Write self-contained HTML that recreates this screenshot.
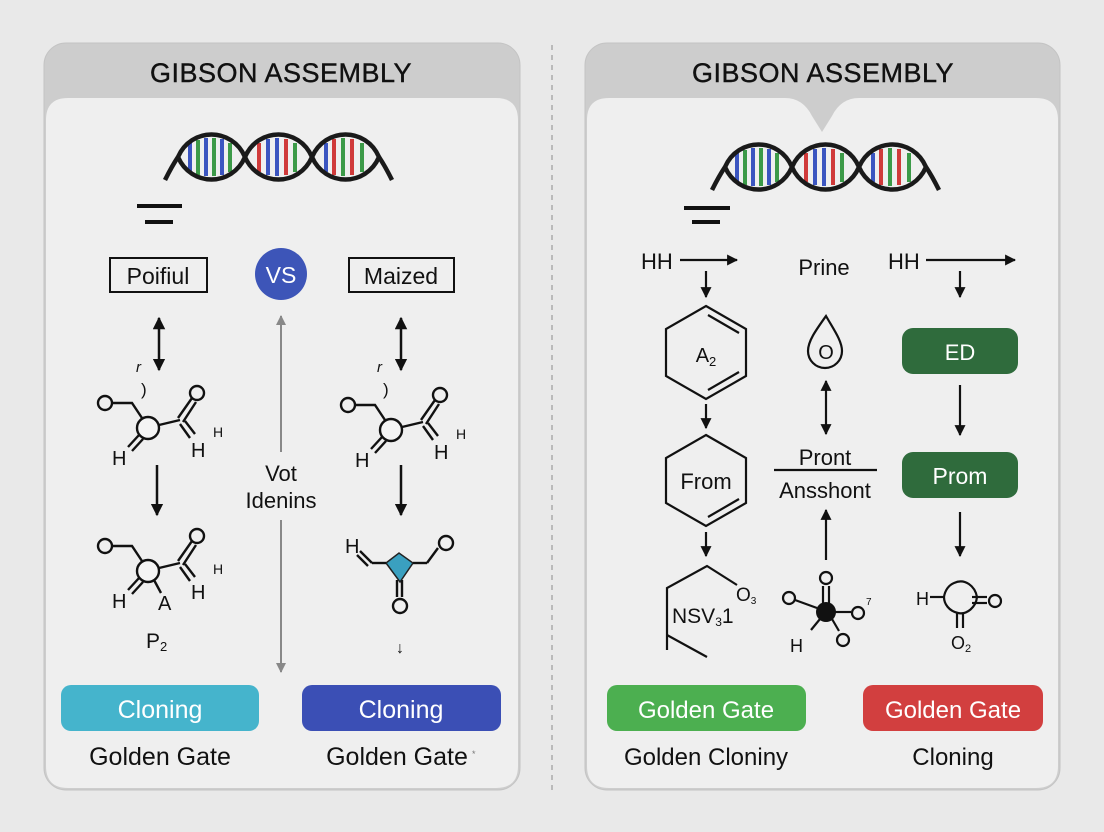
<!DOCTYPE html>
<html><head><meta charset="utf-8"><style>
html,body{margin:0;padding:0;background:#e9e9e9;}
svg{display:block;font-family:"Liberation Sans",sans-serif;}
</style></head><body>
<svg width="1104" height="832" viewBox="0 0 1104 832" xmlns="http://www.w3.org/2000/svg">
<defs>
<marker id="ah" viewBox="0 0 10 10" refX="9" refY="5" markerWidth="5" markerHeight="5" orient="auto-start-reverse"><path d="M0,0L10,5L0,10z" fill="#111"/></marker>
<marker id="ag" viewBox="0 0 10 10" refX="9" refY="5" markerWidth="5" markerHeight="5" orient="auto-start-reverse"><path d="M0,0L10,5L0,10z" fill="#888"/></marker>
<g id="dna">
 <g stroke-width="4">
  <line x1="190" y1="143" x2="190" y2="172" stroke="#3b55c0"/><line x1="198" y1="140" x2="198" y2="175" stroke="#3c9a48"/>
  <line x1="206" y1="138" x2="206" y2="176" stroke="#3b55c0"/><line x1="214" y1="138" x2="214" y2="176" stroke="#3c9a48"/>
  <line x1="222" y1="139" x2="222" y2="175" stroke="#3b55c0"/><line x1="230" y1="143" x2="230" y2="172" stroke="#3c9a48"/>
  <line x1="259" y1="143" x2="259" y2="172" stroke="#d03a3a"/><line x1="268" y1="139" x2="268" y2="175" stroke="#3b55c0"/>
  <line x1="277" y1="138" x2="277" y2="176" stroke="#3b55c0"/><line x1="286" y1="139" x2="286" y2="175" stroke="#d03a3a"/>
  <line x1="295" y1="143" x2="295" y2="172" stroke="#3c9a48"/>
  <line x1="326" y1="143" x2="326" y2="172" stroke="#3b55c0"/><line x1="334" y1="139" x2="334" y2="175" stroke="#d03a3a"/>
  <line x1="343" y1="138" x2="343" y2="176" stroke="#3c9a48"/><line x1="352" y1="139" x2="352" y2="175" stroke="#d03a3a"/>
  <line x1="362" y1="143" x2="362" y2="172" stroke="#3c9a48"/>
 </g>
 <g fill="none" stroke="#1a1a1a" stroke-width="4.5">
  <path d="M165,180 C170,170 174,163 178,157 C191,127 232,127 245,157 C258,187 299,187 312,157 C325,127 366,127 379,157 C383,163 387,170 392,180"/>
  <path d="M178,157 C191,187 232,187 245,157 C258,127 299,127 312,157 C325,187 366,187 379,157"/>
 </g>
</g>
</defs>

<line x1="552" y1="45" x2="552" y2="790" stroke="#aaa" stroke-width="1.5" stroke-dasharray="5,5"/>

<rect x="44" y="43" width="476" height="747" rx="22" fill="#cdcdcd" stroke="#c4c4c4"/>
<path d="M46,120 Q46,98 68,98 L496,98 Q518,98 518,120 L518,766 Q518,788 496,788 L68,788 Q46,788 46,766 Z" fill="#efefef"/>
<text x="281" y="82" font-size="27" text-anchor="middle" fill="#111" letter-spacing="0.5" stroke="#111" stroke-width="0.4">GIBSON ASSEMBLY</text>

<rect x="585" y="43" width="475" height="747" rx="22" fill="#cdcdcd" stroke="#c4c4c4"/>
<path d="M587,120 Q587,98 609,98 L785,98 Q803,98 812,116 L822,132 L832,116 Q841,98 859,98 L1036,98 Q1058,98 1058,120 L1058,766 Q1058,788 1036,788 L609,788 Q587,788 587,766 Z" fill="#efefef"/>
<text x="823" y="82" font-size="27" text-anchor="middle" fill="#111" letter-spacing="0.5" stroke="#111" stroke-width="0.4">GIBSON ASSEMBLY</text>

<use href="#dna"/>
<use href="#dna" transform="translate(547,10)"/>

<g stroke="#111" stroke-width="4">
<line x1="137" y1="206" x2="182" y2="206"/><line x1="145" y1="222" x2="173" y2="222"/>
<line x1="684" y1="208" x2="730" y2="208"/><line x1="692" y1="222" x2="720" y2="222"/>
</g>

<rect x="110" y="258" width="97" height="34" fill="none" stroke="#111" stroke-width="2"/>
<text x="158" y="284" font-size="23" text-anchor="middle" fill="#111">Poifiul</text>
<rect x="349" y="258" width="105" height="34" fill="none" stroke="#111" stroke-width="2"/>
<text x="401" y="284" font-size="23" text-anchor="middle" fill="#111">Maized</text>
<circle cx="281" cy="274" r="26" fill="#3d55b8"/>
<text x="281" y="283" font-size="23" text-anchor="middle" fill="#fff">VS</text>

<g stroke="#888" stroke-width="2">
<line x1="281" y1="316" x2="281" y2="452" marker-start="url(#ag)"/>
<line x1="281" y1="520" x2="281" y2="672" marker-end="url(#ag)"/>
</g>
<text x="281" y="481" font-size="22" text-anchor="middle" fill="#111">Vot</text>
<text x="281" y="508" font-size="22" text-anchor="middle" fill="#111">Idenins</text>

<g stroke="#111" stroke-width="2.5" fill="none">
<line x1="159" y1="318" x2="159" y2="370" marker-start="url(#ah)" marker-end="url(#ah)"/>
<line x1="401" y1="318" x2="401" y2="370" marker-start="url(#ah)" marker-end="url(#ah)"/>
<line x1="157" y1="465" x2="157" y2="515" marker-end="url(#ah)"/>
<line x1="401" y1="465" x2="401" y2="515" marker-end="url(#ah)"/>
</g>
<text x="136" y="372" font-size="15" font-style="italic" fill="#111">r</text>
<text x="141" y="395" font-size="17" fill="#111">)</text>
<text x="377" y="372" font-size="15" font-style="italic" fill="#111">r</text>
<text x="383" y="395" font-size="17" fill="#111">)</text>

<g id="mol" stroke="#111" stroke-width="2.4" fill="none">
 <circle cx="105" cy="403" r="7"/>
 <path d="M112,403 L132,403 L142,418"/>
 <circle cx="148" cy="428" r="11" fill="#f4f4f4"/>
 <line x1="159" y1="425" x2="180" y2="420"/>
 <line x1="178" y1="418" x2="192" y2="398"/><line x1="183" y1="422" x2="196" y2="402"/>
 <circle cx="197" cy="393" r="7"/>
 <line x1="180" y1="424" x2="190" y2="438"/><line x1="185" y1="421" x2="195" y2="434"/>
 <line x1="139" y1="435" x2="128" y2="447"/><line x1="143" y1="439" x2="132" y2="451"/>
</g>
<g font-size="20" fill="#111">
<text x="112" y="465">H</text><text x="191" y="457">H</text><text x="213" y="437" font-size="14">H</text>
</g>
<g transform="translate(243,2)">
 <use href="#mol"/>
 <g font-size="20" fill="#111"><text x="112" y="465">H</text><text x="191" y="457">H</text><text x="213" y="437" font-size="14">H</text></g>
</g>
<g transform="translate(0,143)">
 <use href="#mol"/>
 <line x1="154" y1="437" x2="161" y2="450" stroke="#111" stroke-width="2.4"/>
 <g font-size="20" fill="#111"><text x="112" y="465">H</text><text x="191" y="456">H</text><text x="213" y="431" font-size="14">H</text><text x="158" y="467">A</text></g>
</g>
<text x="146" y="648" font-size="21" fill="#111">P<tspan font-size="13" dy="3">2</tspan></text>

<g stroke="#111" stroke-width="2.4" fill="none">
 <polygon points="386,563 399,553 413,563 400,582" fill="#3aa0c0" stroke="#222" stroke-width="1.5"/>
 <line x1="386" y1="563" x2="372" y2="563"/>
 <line x1="372" y1="563" x2="360" y2="551"/><line x1="368" y1="566" x2="357" y2="555"/>
 <line x1="413" y1="563" x2="427" y2="563"/>
 <line x1="427" y1="563" x2="438" y2="548"/>
 <circle cx="446" cy="543" r="7"/>
 <line x1="397" y1="580" x2="397" y2="597"/><line x1="402" y1="580" x2="402" y2="597"/>
 <circle cx="400" cy="606" r="7"/>
</g>
<text x="345" y="553" font-size="20" fill="#111">H</text>
<text x="396" y="653" font-size="16" font-style="italic" fill="#111">↓</text>

<rect x="61" y="685" width="198" height="46" rx="10" fill="#45b4cc"/>
<text x="160" y="718" font-size="25" text-anchor="middle" fill="#fff">Cloning</text>
<rect x="302" y="685" width="199" height="46" rx="10" fill="#3b4fb5"/>
<text x="401" y="718" font-size="25" text-anchor="middle" fill="#fff">Cloning</text>
<text x="160" y="765" font-size="25" text-anchor="middle" fill="#111">Golden Gate</text>
<text x="397" y="765" font-size="25" text-anchor="middle" fill="#111">Golden Gate</text>
<text x="472" y="757" font-size="9" fill="#777">*</text>

<g font-size="22" fill="#111">
<text x="641" y="269">HH</text><text x="888" y="269">HH</text>
</g>
<text x="824" y="275" font-size="22" text-anchor="middle" fill="#111">Prine</text>
<g stroke="#111" stroke-width="2.2" fill="none">
 <line x1="680" y1="260" x2="737" y2="260" marker-end="url(#ah)"/>
 <line x1="926" y1="260" x2="1015" y2="260" marker-end="url(#ah)"/>
 <line x1="706" y1="271" x2="706" y2="297" marker-end="url(#ah)"/>
 <line x1="960" y1="271" x2="960" y2="297" marker-end="url(#ah)"/>
 <polygon points="706,306 746,329 746,376 706,399 666,376 666,329"/>
 <line x1="708" y1="315" x2="739" y2="333"/><line x1="739" y1="372" x2="708" y2="390"/>
 <line x1="706" y1="404" x2="706" y2="428" marker-end="url(#ah)"/>
 <polygon points="706,435 746,458 746,503 706,526 666,503 666,458"/>
 <line x1="739" y1="499" x2="708" y2="517"/>
 <line x1="706" y1="532" x2="706" y2="556" marker-end="url(#ah)"/>
 <path d="M667,650 L667,588 L707,566 L737,585"/>
 <line x1="667" y1="635" x2="707" y2="657"/>
 <path d="M826,316 C816,330 808,341 808,351 A16,16 0 0 0 842,351 C842,341 834,330 826,316 Z"/>
 <line x1="826" y1="381" x2="826" y2="434" marker-start="url(#ah)" marker-end="url(#ah)"/>
 <line x1="774" y1="470" x2="877" y2="470"/>
 <line x1="826" y1="560" x2="826" y2="510" marker-end="url(#ah)"/>
 <line x1="960" y1="385" x2="960" y2="435" marker-end="url(#ah)"/>
 <line x1="960" y1="512" x2="960" y2="556" marker-end="url(#ah)"/>
</g>
<text x="706" y="362" font-size="20" text-anchor="middle" fill="#111">A<tspan font-size="13" dy="4">2</tspan></text>
<text x="706" y="489" font-size="22" text-anchor="middle" fill="#111">From</text>
<text x="736" y="601" font-size="19" fill="#111">O<tspan font-size="10" dy="3">3</tspan></text>
<text x="672" y="623" font-size="21" fill="#111">NSV<tspan font-size="12" dy="3">3</tspan><tspan dy="-3">1</tspan></text>
<text x="826" y="359" font-size="20" text-anchor="middle" fill="#111">O</text>
<text x="825" y="465" font-size="22" text-anchor="middle" fill="#111">Pront</text>
<text x="825" y="498" font-size="22" text-anchor="middle" fill="#111">Ansshont</text>

<g stroke="#111" stroke-width="2.2" fill="none">
 <line x1="823" y1="604" x2="823" y2="586"/><line x1="829" y1="604" x2="829" y2="586"/>
 <circle cx="826" cy="578" r="6"/>
 <line x1="817" y1="608" x2="795" y2="600"/><circle cx="789" cy="598" r="6"/>
 <line x1="835" y1="612" x2="851" y2="612"/><circle cx="858" cy="613" r="6"/>
 <line x1="832" y1="619" x2="839" y2="631"/><circle cx="843" cy="640" r="6"/>
 <line x1="820" y1="619" x2="811" y2="630"/>
</g>
<circle cx="826" cy="612" r="10" fill="#111"/>
<text x="790" y="652" font-size="18" fill="#111">H</text>
<text x="866" y="605" font-size="10" fill="#111">7</text>

<rect x="902" y="328" width="116" height="46" rx="11" fill="#2f6b3c"/>
<text x="960" y="360" font-size="22" text-anchor="middle" fill="#fff">ED</text>
<rect x="902" y="452" width="116" height="46" rx="11" fill="#2f6b3c"/>
<text x="960" y="484" font-size="23" text-anchor="middle" fill="#fff">Prom</text>

<g stroke="#111" stroke-width="2.2" fill="none">
 <line x1="930" y1="597" x2="944" y2="597"/>
 <path d="M954,583 C965,578 975,586 977,597 C976,607 967,615 958,613 C949,611 944,604 944,597 C945,590 949,585 954,583 Z"/>
 <line x1="972" y1="597" x2="987" y2="597"/><line x1="972" y1="603" x2="987" y2="603"/>
 <circle cx="995" cy="601" r="6"/>
 <line x1="957" y1="613" x2="957" y2="628"/><line x1="963" y1="613" x2="963" y2="628"/>
</g>
<text x="916" y="605" font-size="18" fill="#111">H</text>
<text x="951" y="649" font-size="18" fill="#111">O<tspan font-size="11" dy="3">2</tspan></text>

<rect x="607" y="685" width="199" height="46" rx="10" fill="#4caf50"/>
<text x="706" y="718" font-size="24" text-anchor="middle" fill="#fff">Golden Gate</text>
<rect x="863" y="685" width="180" height="46" rx="10" fill="#d23f3f"/>
<text x="953" y="718" font-size="24" text-anchor="middle" fill="#fff">Golden Gate</text>
<text x="706" y="765" font-size="24" text-anchor="middle" fill="#111">Golden Cloniny</text>
<text x="953" y="765" font-size="24" text-anchor="middle" fill="#111">Cloning</text>
</svg>
</body></html>
